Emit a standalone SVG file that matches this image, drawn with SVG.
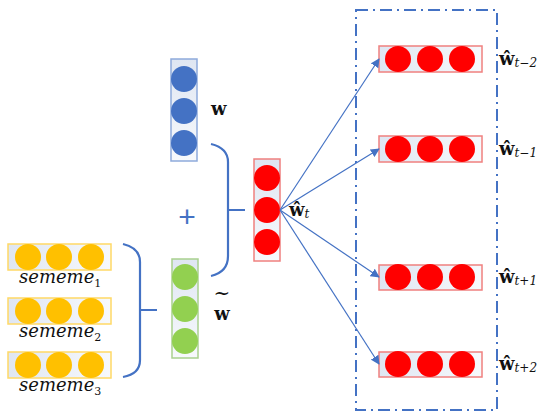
<svg xmlns="http://www.w3.org/2000/svg" width="550" height="419" viewBox="0 0 550 419">
<defs>
<linearGradient id="gv" x1="0" y1="0" x2="0" y2="1"><stop offset="0" stop-color="#dfe6f2"/><stop offset="1" stop-color="#f7f9fc"/></linearGradient>
<linearGradient id="gh" x1="0" y1="0" x2="1" y2="0"><stop offset="0" stop-color="#dfe6f2"/><stop offset="1" stop-color="#f7f9fc"/></linearGradient>
<marker id="ah" viewBox="0 0 10 10" refX="9" refY="5" markerWidth="9" markerHeight="9" markerUnits="userSpaceOnUse" orient="auto"><path d="M0,0 L10,5 L0,10 Z" fill="#4472c4"/></marker>
</defs>
<style>
.bl{fill:#4472c4}.rd{fill:#ff0000}.or{fill:#ffc000}.gr{fill:#92d050}
.bb{stroke:#8eaadb;stroke-width:1.5}.rb{stroke:#f0807f;stroke-width:1.5}.ob{stroke:#ffd966;stroke-width:1.5}.gb{stroke:#a9d18e;stroke-width:1.5}
.br{fill:none;stroke:#4472c4;stroke-width:2.2}
.cn{stroke:#4472c4;stroke-width:1.2;fill:none}
.lb{font-weight:bold;font-size:18px;fill:#111}
.sb{font-style:italic;font-size:12px;font-weight:normal}
.sm{font-style:italic;font-size:18px;fill:#111}
.sub{font-size:11px;font-style:normal}
</style>
<g id="frame"><rect x="356" y="10" width="141" height="400" fill="none" stroke="#4472c4" stroke-width="2" stroke-dasharray="12 5 2 5"/></g>
<g id="w">
<rect x="171" y="59" width="26" height="102" fill="url(#gv)" class="bb"/>
<circle cx="184" cy="79" r="13" class="bl"/><circle cx="184" cy="111" r="13" class="bl"/><circle cx="184" cy="143" r="13" class="bl"/>
<text x="211" y="115" class="lb" font-family="DejaVu Serif, serif">w</text>
</g>
<g id="plus"><text x="187" y="227" font-size="30" font-family="Liberation Sans, sans-serif" fill="#4472c4" text-anchor="middle">+</text></g>
<g id="wtilde">
<rect x="172" y="259" width="26" height="99" fill="url(#gv)" class="gb"/>
<circle cx="185" cy="277" r="13" class="gr"/><circle cx="185" cy="309" r="13" class="gr"/><circle cx="185" cy="341" r="13" class="gr"/>
<text x="222" y="300" font-size="20" font-family="DejaVu Serif, serif" fill="#111" text-anchor="middle">~</text>
<text x="222" y="320" class="lb" font-family="DejaVu Serif, serif" text-anchor="middle">w</text>
</g>
<g id="sememe1">
<rect x="8" y="244" width="103" height="26" fill="url(#gh)" class="ob"/>
<circle cx="28" cy="257" r="13" class="or"/><circle cx="59" cy="257" r="13" class="or"/><circle cx="91" cy="257" r="13" class="or"/>
<text x="19" y="283" class="sm" font-family="DejaVu Serif, serif">sememe<tspan class="sub" dy="4">1</tspan></text>
</g>
<g id="sememe2">
<rect x="8" y="298" width="103" height="26" fill="url(#gh)" class="ob"/>
<circle cx="28" cy="311" r="13" class="or"/><circle cx="59" cy="311" r="13" class="or"/><circle cx="91" cy="311" r="13" class="or"/>
<text x="19" y="337" class="sm" font-family="DejaVu Serif, serif">sememe<tspan class="sub" dy="4">2</tspan></text>
</g>
<g id="sememe3">
<rect x="8" y="352" width="103" height="26" fill="url(#gh)" class="ob"/>
<circle cx="28" cy="365" r="13" class="or"/><circle cx="59" cy="365" r="13" class="or"/><circle cx="91" cy="365" r="13" class="or"/>
<text x="19" y="391" class="sm" font-family="DejaVu Serif, serif">sememe<tspan class="sub" dy="4">3</tspan></text>
</g>
<g id="wt">
<rect x="254" y="159" width="26" height="102" fill="url(#gv)" class="rb"/>
<circle cx="267" cy="178" r="13" class="rd"/><circle cx="267" cy="210" r="13" class="rd"/><circle cx="267" cy="242" r="13" class="rd"/>
<text x="289" y="216" class="lb" font-family="DejaVu Serif, serif">ŵ<tspan class="sb" dy="2">t</tspan></text>
</g>
<g id="wtm2">
<rect x="379" y="46" width="103" height="26" fill="url(#gh)" class="rb"/>
<circle cx="398" cy="59" r="13" class="rd"/><circle cx="430" cy="59" r="13" class="rd"/><circle cx="462" cy="59" r="13" class="rd"/>
<text x="499" y="65" class="lb" font-family="DejaVu Serif, serif">ŵ<tspan class="sb" dy="2">t−2</tspan></text>
</g>
<g id="wtm1">
<rect x="379" y="136" width="103" height="26" fill="url(#gh)" class="rb"/>
<circle cx="398" cy="149" r="13" class="rd"/><circle cx="430" cy="149" r="13" class="rd"/><circle cx="462" cy="149" r="13" class="rd"/>
<text x="499" y="155" class="lb" font-family="DejaVu Serif, serif">ŵ<tspan class="sb" dy="2">t−1</tspan></text>
</g>
<g id="wtp1">
<rect x="379" y="265" width="103" height="25" fill="url(#gh)" class="rb"/>
<circle cx="398" cy="277" r="13" class="rd"/><circle cx="430" cy="277" r="13" class="rd"/><circle cx="462" cy="277" r="13" class="rd"/>
<text x="499" y="283" class="lb" font-family="DejaVu Serif, serif">ŵ<tspan class="sb" dy="2">t+1</tspan></text>
</g>
<g id="wtp2">
<rect x="379" y="352" width="103" height="25" fill="url(#gh)" class="rb"/>
<circle cx="398" cy="364" r="13" class="rd"/><circle cx="430" cy="364" r="13" class="rd"/><circle cx="462" cy="364" r="13" class="rd"/>
<text x="499" y="370" class="lb" font-family="DejaVu Serif, serif">ŵ<tspan class="sb" dy="2">t+2</tspan></text>
</g>
<g id="connectors">
<path class="br" d="M211,144 Q228,148 228,162 L228,256 Q228,272 211,276 M228,210 L245,210"/>
<path class="br" d="M123,244 Q140,248 140,262 L140,360 Q140,374 123,377 M140,310 L157,310"/>
<line class="cn" x1="280" y1="210" x2="379" y2="59" marker-end="url(#ah)"/>
<line class="cn" x1="280" y1="210" x2="379" y2="149" marker-end="url(#ah)"/>
<line class="cn" x1="280" y1="210" x2="379" y2="277" marker-end="url(#ah)"/>
<line class="cn" x1="280" y1="210" x2="379" y2="364" marker-end="url(#ah)"/>
</g>
</svg>
